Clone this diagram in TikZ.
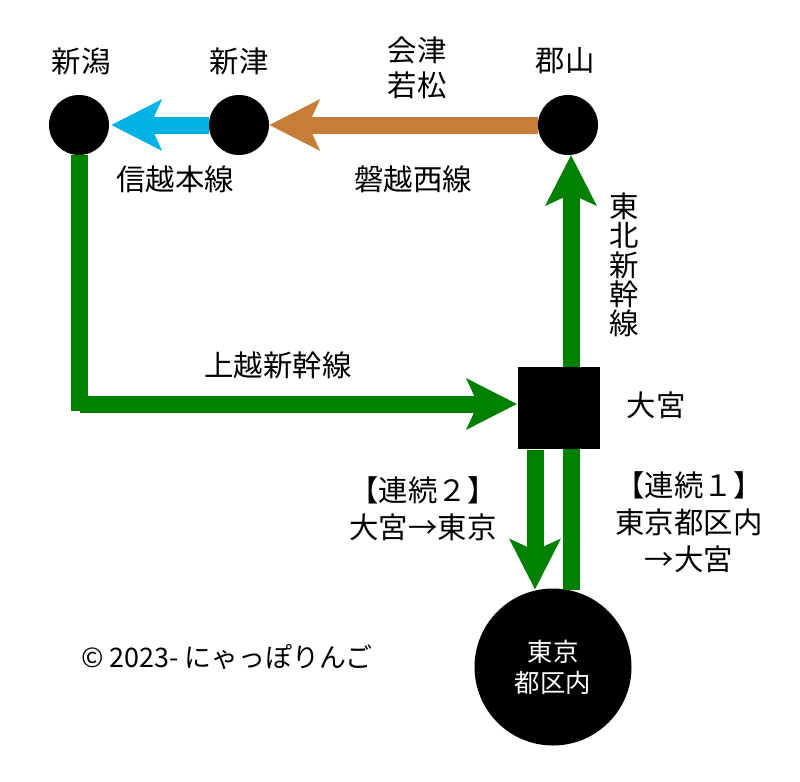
\documentclass[tikz,border=0pt]{standalone}
\usepackage{fontspec}
\setmainfont{Noto Sans CJK JP}
\usetikzlibrary{arrows.meta}
\definecolor{linegreen}{RGB}{0,128,0}
\definecolor{linebrown}{RGB}{198,125,56}
\definecolor{lineblue}{RGB}{0,178,228}
\tikzset{
  station/.style={circle,fill=black,inner sep=0pt,minimum size=60bp},
  hub/.style={rectangle,fill=black,inner sep=0pt,minimum size=82bp},
  txt/.style={font=\fontsize{29.5}{37}\selectfont,align=center,inner sep=0pt},
  track/.style={line width=17bp},
  run/.style={track,-{Stealth[length=50bp,width=50bp,inset=11bp]}},
}
\begin{document}
\begin{tikzpicture}[x=1bp,y=-1bp]
%
\useasboundingbox (0,0) rectangle (800,782);
%
% stations
\node[station] (niigata) at (79,125) {};
\node[station] (niitsu) at (239,125) {};
\node[station] (koriyama) at (568,125) {};
\node[hub] (omiya) at (559,408) {};
\node[station,minimum size=157bp] (tokyo) at (553,667) {};
%
% free ends
\coordinate (bend) at (79,411);
\coordinate (joetsu start) at (80,404);
\coordinate (joetsu end) at (517,404);
\coordinate (tohoku start) at (571,367);
\coordinate (tohoku end) at (571,155);
\coordinate (up start) at (571,590);
\coordinate (up end) at (571,449);
\coordinate (down start) at (535,450);
\coordinate (down end) at (535,589.5);
%
% lines
\draw[run,draw=linebrown] (koriyama.west)--(niitsu.east);
\draw[run,draw=lineblue,shorten >=2bp] (niitsu.west)--(niigata.east);
\draw[track,draw=linegreen] (niigata.south)--(bend);
\draw[run,draw=linegreen] (joetsu start)--(joetsu end);
\draw[run,draw=linegreen] (tohoku start)--(tohoku end);
\draw[track,draw=linegreen] (up start)--(up end);
\draw[run,draw=linegreen] (down start)--(down end);
%
% labels
\node[txt] (niigata label) at (81,61) {新潟};
\node[txt] (niitsu label) at (239,61) {新津};
\node[txt] (koriyama label) at (565,61) {郡山};
\node[txt,font=\fontsize{29.5}{35}\selectfont] (aizu label) at (417,68) {会津\\若松};
\node[txt] (shinetsu label) at (175,179) {信越本線};
\node[txt] (banetsu label) at (413,179) {磐越西線};
\node[txt,font=\fontsize{29.5}{29.5}\selectfont] (tohoku label) at (624,265) {東\\北\\新\\幹\\線};
\node[txt] (joetsu label) at (278,365) {上越新幹線};
\node[txt] (omiya label) at (656,405) {大宮};
\node[txt] (down label) at (423,509) {【連続２】\\大宮→東京};
\node[txt] (up label) at (689,522) {【連続１】\\東京都区内\\→大宮};
\node[txt,text=white,font=\fontsize{25.5}{31}\selectfont] (tokyo label) at (tokyo) {東京\\都区内};
\node[txt,font=\fontsize{27}{30}\selectfont] (credit) at (227,657) {© 2023- にゃっぽりんご};
%
\end{tikzpicture}
\end{document}
